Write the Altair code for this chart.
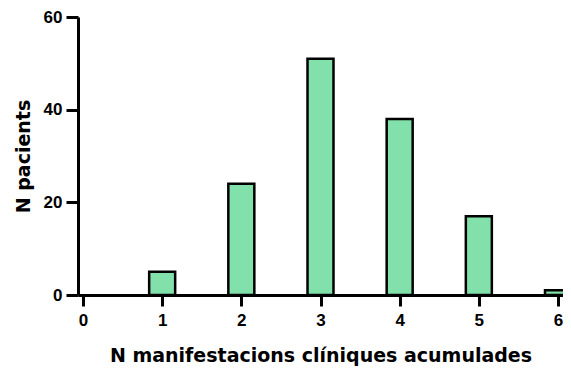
import altair as alt
import pandas as pd

n_manifestacions = [1, 2, 3, 4, 5, 6]
n_pacients = [5, 24, 51, 38, 17, 1]
x_ticks = [0, 1, 2, 3, 4, 5, 6]
y_ticks = [0, 20, 40, 60]

df = pd.DataFrame({"x": n_manifestacions, "y": n_pacients})

LABEL_FONT = "Liberation Sans"
TITLE_FONT = "DejaVu Sans"

chart = alt.Chart(df).mark_bar(
    size=26, color="#82E0AA", stroke="black", strokeWidth=2.5
).encode(
    x=alt.X(
        "x:Q",
        scale=alt.Scale(domain=[0, 6], nice=False, zero=False),
        axis=alt.Axis(
            values=x_ticks, format="d", title="N manifestacions clíniques acumulades",
            grid=False, domainColor="black", domainWidth=3, tickColor="black",
            tickWidth=3, tickSize=11, labelFont=LABEL_FONT, labelFontSize=17,
            labelFontWeight="bold", labelColor="black", labelPadding=6,
            titleFont=TITLE_FONT, titleFontSize=19, titleFontWeight="bold",
            titleColor="black", titlePadding=18, labelFlush=False,
        ),
    ),
    y=alt.Y(
        "y:Q",
        scale=alt.Scale(domain=[0, 60], nice=False),
        axis=alt.Axis(
            values=y_ticks, title="N pacients", grid=False,
            domainColor="black", domainWidth=3, tickColor="black",
            tickWidth=3, tickSize=12, labelFont=LABEL_FONT, labelFontSize=17,
            labelFontWeight="bold", labelColor="black", labelPadding=4,
            titleFont=TITLE_FONT, titleFontSize=19, titleFontWeight="bold",
            titleColor="black", titlePadding=10, labelFlush=False,
        ),
    ),
).properties(
    width=485, height=278,
    autosize=alt.AutoSizeParams(type="none"),
    padding={"left": 70, "top": 9, "right": 0, "bottom": 72},
).configure_view(stroke=None)

chart.save("out.html", embed_options={"renderer": "svg", "actions": False})
